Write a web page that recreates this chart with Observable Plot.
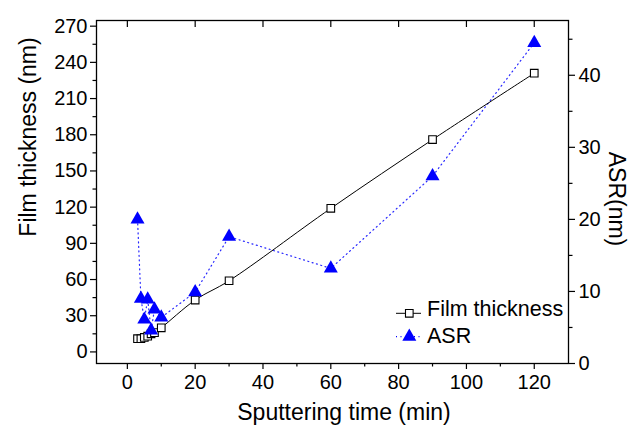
<!DOCTYPE html>
<html><head><meta charset="utf-8">
<script src="https://cdn.jsdelivr.net/npm/d3@7"></script>
<script src="https://cdn.jsdelivr.net/npm/@observablehq/plot@0.6"></script>
<style>body{margin:0;background:#fff}</style>
</head><body><div id="chart"></div>
<script>
const time = [3, 4, 5, 6, 7, 8, 10, 20, 30, 60, 90, 120];
const thickness = [11, 11, 12, 13, 15, 16, 20, 43, 59, 119, 176, 231];
const asr = [20, 9, 6.1, 8.9, 4.6, 7.5, 6.4, 9.9, 17.6, 13.2, 26, 44.5];
const xMajor = [0, 20, 40, 60, 80, 100, 120];
const xMinor = [10, 30, 50, 70, 90, 110];
const yMajor = [0, 30, 60, 90, 120, 150, 180, 210, 240, 270];
const yMinor = [15, 45, 75, 105, 135, 165, 195, 225, 255];
const asrMajor = [0, 10, 20, 30, 40];
const asrMinor = [5, 15, 25, 35, 45];
const seriesNames = ["Film thickness", "ASR"];
const xTitle = "Sputtering time (min)";
const yTitle = "Film thickness (nm)";
const y2Title = "ASR(nm)";

const xDomain = [-9.1, 130.1];
const yDomain = [-9.6, 274.7];
const asrDomain = [0, 47.6];
const k = (yDomain[1] - yDomain[0]) / (asrDomain[1] - asrDomain[0]);
const toY = a => yDomain[0] + (a - asrDomain[0]) * k;
const fromY = y => asrDomain[0] + (y - yDomain[0]) / k;

const W = 640, H = 434;
const mL = 96, mR = 72, mT = 20, mB = 71;
const frameH = H - mT - mB;

const thickData = time.map((t, i) => ({t, v: thickness[i]}));
const asrData = time.map((t, i) => ({t, v: toY(asr[i])}));

const blue = "#0000ff";
const font = "'Liberation Sans', Arial, sans-serif";

const plot = Plot.plot({
  width: W, height: H,
  marginLeft: mL, marginRight: mR, marginTop: mT, marginBottom: mB,
  style: {fontFamily: font, fontSize: "20px", color: "#000", background: "#fff", overflow: "visible"},
  x: {domain: xDomain},
  y: {domain: yDomain},
  marks: [
    Plot.axisX(xMajor, {anchor: "bottom", tickSize: 6, tickPadding: 5, label: null, stroke: "#000", strokeWidth: 1.2}),
    Plot.axisX(xMinor, {anchor: "bottom", tickSize: 3.5, tickFormat: () => "", label: null, stroke: "#000", strokeWidth: 1.2}),
    Plot.ruleX(xMajor, {x: d => d, insetBottom: frameH - 7, stroke: "#000", strokeWidth: 1.2}),
    Plot.axisY(yMajor, {anchor: "left", tickSize: 6, tickPadding: 3, label: null, stroke: "#000", strokeWidth: 1.2}),
    Plot.axisY(yMinor, {anchor: "left", tickSize: 3.5, tickFormat: () => "", label: null, stroke: "#000", strokeWidth: 1.2}),
    Plot.axisY(asrMajor.map(toY), {anchor: "right", tickSize: 6, tickPadding: 4, label: null, tickFormat: d => Math.round(fromY(d)), stroke: "#000", strokeWidth: 1.2}),
    Plot.axisY(asrMinor.map(toY), {anchor: "right", tickSize: 3.5, tickFormat: () => "", label: null, stroke: "#000", strokeWidth: 1.2}),
    Plot.frame({stroke: "#000", strokeWidth: 1.3}),
    Plot.line(asrData, {x: "t", y: "v", stroke: blue, strokeWidth: 1.2, strokeDasharray: "1,3.5", strokeOpacity: 0.85}),
    Plot.line(thickData, {x: "t", y: "v", stroke: "#000", strokeWidth: 1, curve: "catmull-rom"}),
    Plot.dot(thickData, {x: "t", y: "v", symbol: "square", r: 4.3, fill: "#fff", stroke: "#000", strokeWidth: 1.1}),
    Plot.dot(asrData, {x: "t", y: "v", symbol: "triangle", r: 5.2, fill: blue, stroke: "none"})
  ]
});

document.getElementById("chart").appendChild(plot);

const svg = d3.select(plot);
// axis titles
const tg = svg.append("g").attr("font-family", font).attr("font-size", 23).attr("fill", "#000").attr("text-anchor", "middle");
tg.append("text").attr("transform", "translate(344,412)").attr("dominant-baseline", "central").text(xTitle);
tg.append("text").attr("transform", "translate(28,137) rotate(-90)").attr("dominant-baseline", "central").text(yTitle);
tg.append("text").attr("transform", "translate(617,199) rotate(90)").attr("dominant-baseline", "central").text(y2Title);

// legend (inside frame, bottom right)
const lg = svg.append("g").attr("font-family", font).attr("font-size", 21.5).attr("text-anchor", "start");
const rows = [
  {name: seriesNames[0], y: 313.3, ty: 316, kind: "square"},
  {name: seriesNames[1], y: 336.7, ty: 342.7, kind: "triangle"}
];
rows.forEach(r => {
  const line = lg.append("line").attr("x1", 396).attr("x2", 421).attr("y1", r.y).attr("y2", r.y);
  if (r.kind === "square") {
    line.attr("stroke", "#000").attr("stroke-width", 1);
    lg.append("path").attr("d", d3.symbol(d3.symbolSquare, Math.PI * 4.3 * 4.3)())
      .attr("transform", `translate(409.3,${r.y})`).attr("fill", "#fff").attr("stroke", "#000").attr("stroke-width", 1.1);
  } else {
    line.attr("stroke", blue).attr("stroke-width", 1.2).attr("stroke-dasharray", "1,3.5");
    lg.append("path").attr("d", d3.symbol(d3.symbolTriangle, Math.PI * 5.2 * 5.2)())
      .attr("transform", `translate(409.3,${r.y})`).attr("fill", blue);
  }
  lg.append("text").attr("x", 427).attr("y", r.ty).attr("fill", "#000").text(r.name);
});
</script>
</body></html>
